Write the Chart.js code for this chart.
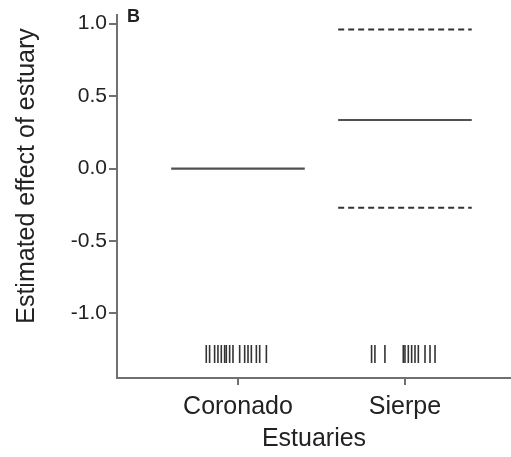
<!DOCTYPE html>
<html>
<head>
<meta charset="utf-8">
<script src="https://cdn.jsdelivr.net/npm/chart.js@4.4.0/dist/chart.umd.min.js"></script>
<style>
  html, body { margin: 0; padding: 0; background: #ffffff; }
  #wrap { width: 511px; height: 457px; }
</style>
</head>
<body>
<div id="wrap"><canvas id="effectChart" width="511" height="457"></canvas></div>
<script>
// estuaries on the x axis (positions 1 and 2)
const categories = ["Coronado", "Sierpe"];
const estimates = [0.0, 0.335];
const upperBand = [null, 0.96];
const lowerBand = [null, -0.27];
const yTicks = [-1.0, -0.5, 0.0, 0.5, 1.0];

// rug marks: observation positions (jittered around each category)
const rugCoronado = [0.81, 0.83, 0.86, 0.88, 0.90, 0.92, 0.93, 0.95, 0.97, 1.01, 1.04, 1.06, 1.08, 1.11, 1.13, 1.17];
const rugSierpe = [1.80, 1.82, 1.88, 1.99, 2.00, 2.02, 2.04, 2.06, 2.08, 2.12, 2.15, 2.18];
const rugLevel = -1.28;

const halfWidth = 0.4;
const lineColor = "#505050";
const axisColor = "#707070";
const textColor = "#222222";
const fontFamily = "'Liberation Sans', Arial, sans-serif";

function segment(i, value) {
  return [
    { x: i + 1 - halfWidth, y: value },
    { x: i + 1 + halfWidth, y: value }
  ];
}

const datasets = [];

estimates.forEach((v, i) => {
  datasets.push({
    type: "line",
    data: segment(i, v),
    borderColor: lineColor,
    borderWidth: 2.2,
    pointRadius: 0
  });
});

[upperBand, lowerBand].forEach(band => {
  band.forEach((v, i) => {
    if (v === null) return;
    datasets.push({
      type: "line",
      data: segment(i, v),
      borderColor: "#333333",
      borderWidth: 2,
      borderDash: [6, 4],
      pointRadius: 0
    });
  });
});

datasets.push({
  type: "scatter",
  data: rugCoronado.concat(rugSierpe).map(x => ({ x: x, y: rugLevel })),
  pointStyle: "line",
  rotation: 90,
  pointRadius: 9,
  borderColor: "#333333",
  borderWidth: 1.6
});

// panel letter and the y title (drawn by hand so it can sit a bit above centre)
const extraText = {
  id: "extraText",
  afterDraw(chart) {
    const ctx = chart.ctx;
    ctx.save();
    ctx.fillStyle = textColor;
    ctx.font = "bold 18px " + fontFamily;
    ctx.textBaseline = "middle";
    ctx.textAlign = "left";
    ctx.fillText("B", 127, 17);

    ctx.font = "25px " + fontFamily;
    ctx.textAlign = "center";
    ctx.translate(27, 176);
    ctx.rotate(-Math.PI / 2);
    ctx.fillText("Estimated effect of estuary", 0, 0);
    ctx.restore();
  }
};

new Chart(document.getElementById("effectChart").getContext("2d"), {
  type: "line",
  data: { datasets },
  options: {
    responsive: false,
    animation: false,
    layout: { autoPadding: false, padding: { top: 12, right: 0, bottom: 0, left: 0 } },
    plugins: {
      legend: { display: false },
      tooltip: { enabled: false }
    },
    scales: {
      x: {
        type: "linear",
        min: 0.2754,
        max: 2.635,
        afterBuildTicks: scale => { scale.ticks = categories.map((c, i) => ({ value: i + 1 })); },
        afterFit: scale => { scale.height = 79; },
        ticks: {
          color: textColor,
          font: { family: fontFamily, size: 25 },
          padding: 7,
          maxRotation: 0,
          callback: v => categories[v - 1]
        },
        grid: { drawOnChartArea: false, drawTicks: true, tickLength: 7, color: axisColor, lineWidth: 2 },
        border: { display: true, color: axisColor, width: 2 },
        title: {
          display: true,
          text: "Estuaries",
          color: textColor,
          font: { family: fontFamily, size: 25 },
          padding: { top: 0, bottom: 3 }
        }
      },
      y: {
        min: -1.445,
        max: 1.062,
        afterBuildTicks: scale => { scale.ticks = yTicks.map(v => ({ value: v })); },
        afterFit: scale => { scale.width = 117; },
        ticks: {
          color: textColor,
          font: { family: fontFamily, size: 21 },
          padding: 2,
          callback: v => v.toFixed(1)
        },
        grid: { drawOnChartArea: false, drawTicks: true, tickLength: 8, color: axisColor, lineWidth: 2 },
        border: { display: true, color: axisColor, width: 2 }
      }
    }
  },
  plugins: [extraText]
});
</script>
</body>
</html>
